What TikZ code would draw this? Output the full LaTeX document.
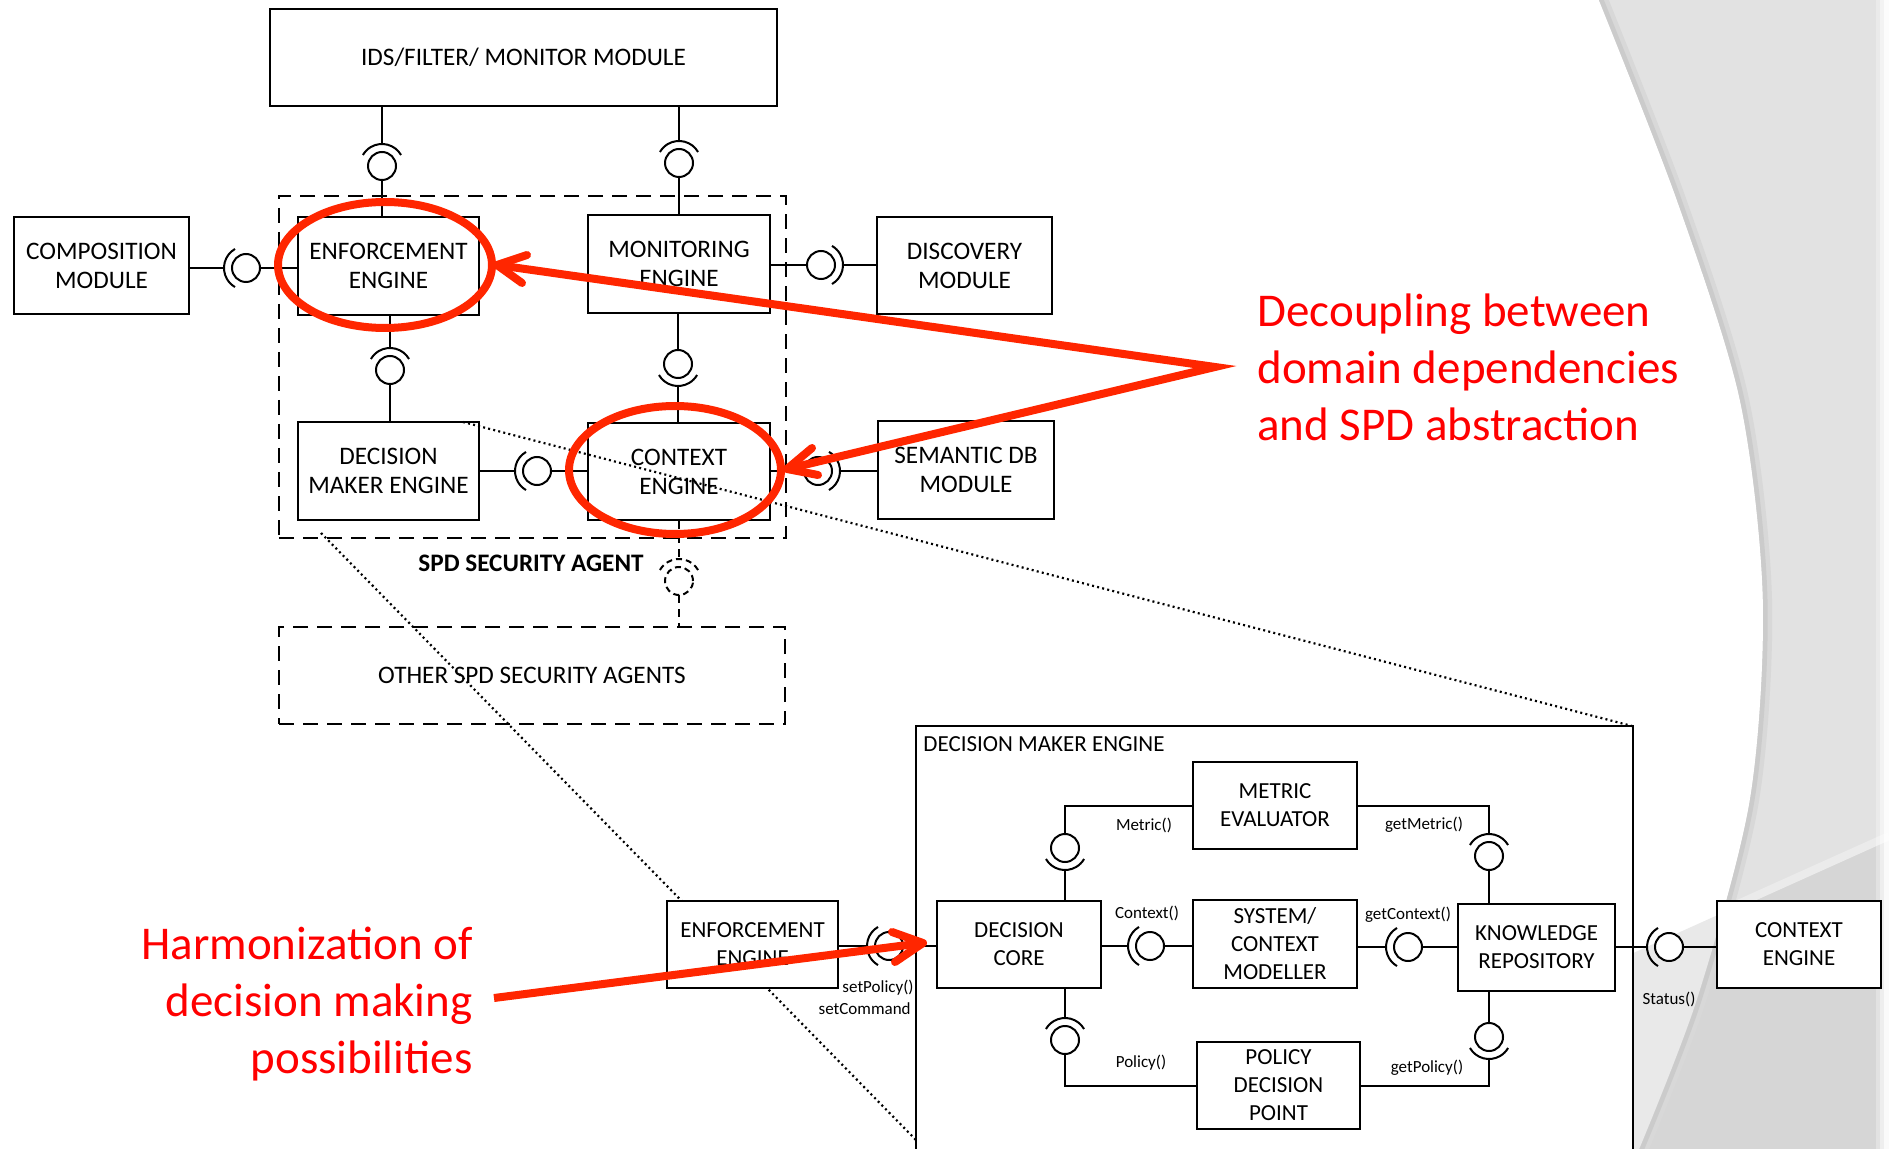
\documentclass[tikz,border=0pt]{standalone}
\usepackage{fontspec}
\setmainfont{Carlito}
\usetikzlibrary{calc}
\definecolor{hlred}{RGB}{255,38,0}
\definecolor{bgA}{RGB}{226,226,226}
\definecolor{bgB}{RGB}{214,214,214}
\definecolor{bgC}{RGB}{233,233,233}
\definecolor{bgS}{RGB}{203,203,203}
\definecolor{bgT}{RGB}{216,216,216}

% component box from its corner pixels: [style]{name}{x1}{y1}{x2}{y2}{text}
\newcommand\cbox[7][box]{%
  \node[#1, minimum width={(#5-#3)*0.5pt}, minimum height={(#6-#4)*0.5pt}]
    (#2) at ({(#3+#5)/2},{(#4+#6)/2}) {#7};}
% ball and socket: [extra style]{ball centre}{direction of the socket side}
\newcommand\ballsock[3][]{%
  \draw[conn,fill=white,#1] (#2) circle[radius=7pt];
  \draw[conn,#1] ($(#2)+({#3-60}:11pt)$) arc[start angle={#3-60}, end angle={#3+60}, radius=11pt];}

\begin{document}
\begin{tikzpicture}[x=0.5pt,y=-0.5pt,
  box/.style={draw, line width=1.2pt, fill=white, inner sep=0pt, align=center,
              font=\fontsize{12.6}{14.5}\selectfont},
  ibox/.style={box, font=\fontsize{11.5}{14}\selectfont},
  dashbox/.style={box, fill=none, dash pattern=on 7.5pt off 4.5pt},
  conn/.style={line width=1pt},
  lbl/.style={inner sep=0pt, font=\fontsize{8.5}{10}\selectfont},
  dotline/.style={line width=1.1pt, dash pattern=on 1pt off 1.6pt},
  redmark/.style={draw=hlred, line width=4pt},
  notetext/.style={text=red, inner sep=0pt, font=\fontsize{23.5}{28.5}\selectfont}
]
\useasboundingbox (0,0) rectangle (1889,1149);
\fill[white] (0,0) rectangle (1889,1149);

% ---- backdrop: grey sweep on the right ----
\fill[bgC] (1889,838) -- (1500,1013) -- (1500,1149) -- (1889,1149) -- cycle;
\fill[bgA] plot[smooth] coordinates {(1597,-5) (1677,200) (1740,400) (1763,600) (1750,800) (1697,1000) (1637,1155)}
  -- (1889,1155) -- (1889,-5) -- cycle;
\begin{scope}
  \clip plot[smooth] coordinates {(1597,-5) (1677,200) (1740,400) (1763,600) (1750,800) (1697,1000) (1637,1155)}
    -- (1889,1155) -- (1889,-5) -- cycle;
  \fill[bgB] (1889,838) -- (1500,1013) -- (1500,1149) -- (1889,1149) -- cycle;
  \draw[white!92!black, line width=4pt] (1889,836) -- (1500,1011);
  \draw[bgT, line width=9pt] plot[smooth] coordinates {(1597,-5) (1677,200) (1740,400) (1763,600) (1750,800) (1697,1000) (1637,1155)};
  \draw[bgS, line width=4.5pt] plot[smooth] coordinates {(1597,-5) (1677,200) (1740,400) (1763,600) (1750,800) (1697,1000) (1637,1155)};
\end{scope}
\fill[white, opacity=0.3] (1876,0) rectangle (1880,1149);
\fill[white, opacity=0.6] (1880,0) rectangle (1884,1149);
\fill[white, opacity=0.9] (1884,0) rectangle (1889,1149);

% ---- projection line behind the detailed view ----
\coordinate (pa) at (321,533);
\coordinate (pb) at (916,1140);
\draw[dotline] (pa) -- (pb);

% ---- detailed decision maker engine frame ----
\draw[line width=1.2pt, fill=white] (916,1165) -- (916,726) -- (1633,726) -- (1633,1165);
\node[anchor=west, inner sep=0pt, font=\fontsize{11.5}{14}\selectfont] (dmetitle) at (923,744) {DECISION MAKER ENGINE};

% ---- security agent ----
\cbox[dashbox]{agent}{279}{196}{786}{538}{}
\cbox{ids}{270}{9}{777}{106}{IDS/FILTER/ MONITOR MODULE}
\cbox{comp}{14}{217}{189}{314}{COMPOSITION\\MODULE}
\cbox{enf}{298}{217}{479}{315}{ENFORCEMENT\\ENGINE}
\cbox{mon}{588}{215}{770}{313}{MONITORING\\ENGINE}
\cbox{disc}{877}{217}{1052}{314}{DISCOVERY\\MODULE}
\cbox{dme}{298}{422}{479}{520}{DECISION\\MAKER ENGINE}
\cbox{ctx}{588}{423}{770}{520}{CONTEXT\\ENGINE}
\cbox{sem}{878}{421}{1054}{519}{SEMANTIC DB\\MODULE}
\cbox[dashbox]{other}{279}{627}{785}{724}{OTHER SPD SECURITY AGENTS}
\node[inner sep=0pt, font=\bfseries\fontsize{12.6}{14.5}\selectfont] (agentlbl) at (531,563) {SPD SECURITY AGENT};

% ---- detailed view components ----
\cbox[ibox]{enf2}{667}{901}{838}{988}{ENFORCEMENT\\ENGINE}
\cbox[ibox]{core}{937}{901}{1101}{988}{DECISION\\CORE}
\cbox[ibox]{metric}{1193}{762}{1357}{849}{METRIC\\EVALUATOR}
\cbox[ibox]{sysm}{1193}{900}{1357}{988}{SYSTEM/\\CONTEXT\\MODELLER}
\cbox[ibox]{pdp}{1197}{1042}{1360}{1129}{POLICY\\DECISION\\POINT}
\cbox[ibox]{know}{1458}{904}{1615}{991}{KNOWLEDGE\\REPOSITORY}
\cbox[ibox]{ctx2}{1717}{901}{1881}{988}{CONTEXT\\ENGINE}

% ---- interface positions ----
\coordinate (b1) at (382,166);
\coordinate (b2) at (679,163);
\coordinate (b3) at (246,268);
\coordinate (b4) at (821,265);
\coordinate (b5) at (390,370);
\coordinate (b6) at (678,364);
\coordinate (b7) at (537,471);
\coordinate (b8) at (818,471);
\coordinate (b9) at (679,581);
\coordinate (b10) at (889,946);
\coordinate (b11) at (1065,848);
\coordinate (b12) at (1489,856);
\coordinate (b13) at (1150,946);
\coordinate (b14) at (1408,947);
\coordinate (b15) at (1065,1040);
\coordinate (b16) at (1489,1037);
\coordinate (b17) at (1669,947);

% ---- agent connectors ----
\draw[conn] (ids.south -| b1) -- ($(b1)+(90:11pt)$);
\draw[conn] ($(b1)+(-90:7pt)$) -- (enf.north -| b1);
\ballsock{b1}{90}
\draw[conn] (ids.south -| b2) -- ($(b2)+(90:11pt)$);
\draw[conn] ($(b2)+(-90:7pt)$) -- (mon.north -| b2);
\ballsock{b2}{90}
\draw[conn] (comp.east |- b3) -- ($(b3)+(180:11pt)$);
\draw[conn] ($(b3)+(0:7pt)$) -- (enf.west |- b3);
\ballsock{b3}{180}
\draw[conn] (mon.east |- b4) -- ($(b4)+(180:7pt)$);
\draw[conn] ($(b4)+(0:11pt)$) -- (disc.west |- b4);
\ballsock{b4}{0}
\draw[conn] (enf.south -| b5) -- ($(b5)+(90:11pt)$);
\draw[conn] ($(b5)+(-90:7pt)$) -- (dme.north -| b5);
\ballsock{b5}{90}
\draw[conn] (mon.south -| b6) -- ($(b6)+(90:7pt)$);
\draw[conn] ($(b6)+(-90:11pt)$) -- (ctx.north -| b6);
\ballsock{b6}{270}
\draw[conn] (dme.east |- b7) -- ($(b7)+(180:11pt)$);
\draw[conn] ($(b7)+(0:7pt)$) -- (ctx.west |- b7);
\ballsock{b7}{180}
\draw[conn] (ctx.east |- b8) -- ($(b8)+(180:7pt)$);
\draw[conn] ($(b8)+(0:11pt)$) -- (sem.west |- b8);
\ballsock{b8}{0}
\draw[conn, dash pattern=on 4pt off 3pt] (ctx.south -| b9) -- ($(b9)+(90:11pt)$);
\draw[conn, dash pattern=on 4pt off 3pt] ($(b9)+(-90:7pt)$) -- (other.north -| b9);
\ballsock[dash pattern=on 3pt off 2pt]{b9}{90}

% ---- detailed view connectors ----
\draw[conn] (enf2.east |- b10) -- ($(b10)+(180:11pt)$);
\draw[conn] ($(b10)+(0:7pt)$) -- (core.west |- b10);
\ballsock{b10}{180}
\draw[conn] (metric.west) -- (metric.west -| b11) -- ($(b11)+(90:7pt)$);
\draw[conn] ($(b11)+(-90:11pt)$) -- (core.north -| b11);
\ballsock{b11}{270}
\draw[conn] (metric.east) -- (metric.east -| b12) -- ($(b12)+(90:11pt)$);
\draw[conn] ($(b12)+(-90:7pt)$) -- (know.north -| b12);
\ballsock{b12}{90}
\draw[conn] (core.east |- b13) -- ($(b13)+(180:11pt)$);
\draw[conn] ($(b13)+(0:7pt)$) -- (sysm.west |- b13);
\ballsock{b13}{180}
\draw[conn] (sysm.east |- b14) -- ($(b14)+(180:11pt)$);
\draw[conn] ($(b14)+(0:7pt)$) -- (know.west |- b14);
\ballsock{b14}{180}
\draw[conn] (core.south -| b15) -- ($(b15)+(90:11pt)$);
\draw[conn] ($(b15)+(-90:7pt)$) -- (b15 |- pdp.west) -- (pdp.west);
\ballsock{b15}{90}
\draw[conn] (pdp.east) -- (pdp.east -| b16) -- ($(b16)+(-90:11pt)$);
\draw[conn] ($(b16)+(90:7pt)$) -- (know.south -| b16);
\ballsock{b16}{270}
\draw[conn] (know.east |- b17) -- ($(b17)+(180:11pt)$);
\draw[conn] ($(b17)+(0:7pt)$) -- (ctx2.west |- b17);
\ballsock{b17}{180}

% ---- interface labels ----
\node[lbl] (lmetric) at (1144,825) {Metric()};
\node[lbl] (lgetmetric) at (1424,825) {getMetric()};
\node[lbl] (lcontext) at (1147,913) {Context()};
\node[lbl] (lgetcontext) at (1408,915) {getContext()};
\node[lbl] (lpolicy) at (1141,1063) {Policy()};
\node[lbl] (lgetpolicy) at (1427,1068) {getPolicy()};
\node[lbl] (lstatus) at (1669,999) {Status()};
\node[lbl, anchor=east] (lsetpolicy) at (914,988) {setPolicy()};
\node[lbl, anchor=east] (lsetcommand) at (911,1009) {setCommand};

% ---- projection line over the agent ----
\coordinate (pc) at (463,422);
\coordinate (pd) at (1632,726);
\draw[dotline] (pc) -- (pd);

% ---- highlights ----
\draw[redmark] (385,265) ellipse[x radius=53.5pt, y radius=31.5pt];
\draw[redmark] (675,470) ellipse[x radius=53pt, y radius=32pt];
\coordinate (t1) at (497,265);
\coordinate (vx) at (1215,367);
\coordinate (t2) at (787,469);
\draw[redmark, line join=miter] (t1) -- (vx) -- (t2);
\draw[redmark, line cap=round, line join=round] (527,255) -- (t1) -- (522,283);
\draw[redmark, line cap=round, line join=round] (812,448) -- (t2) -- (818,475);
\coordinate (s3) at (494,998);
\coordinate (t3) at (923,943);
\draw[redmark] (s3) -- (t3);
\draw[redmark, line cap=round, line join=round] (892,932) -- (t3) -- (895,962);

% multi-line notes: the base anchor sits on the last line
\node[notetext, anchor=base west, align=left] (note1) at (1257,441)
  {Decoupling between\\domain dependencies\\and SPD abstraction};
\node[notetext, anchor=base east, align=right] (note2) at (473,1073)
  {Harmonization of\\decision making\\possibilities};
\end{tikzpicture}
\end{document}
